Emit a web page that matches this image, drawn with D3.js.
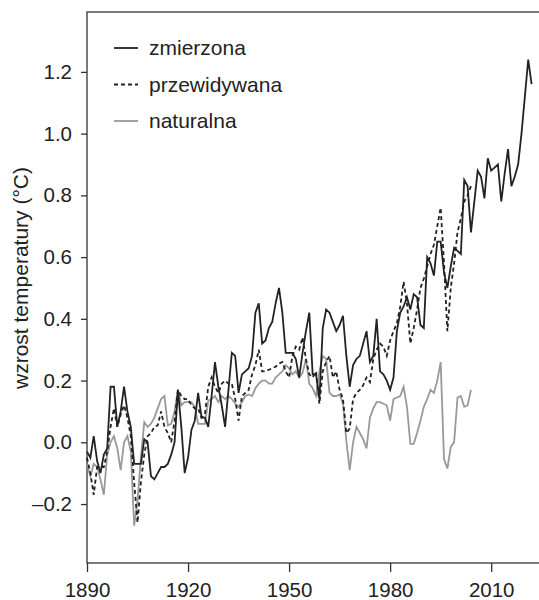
<!DOCTYPE html>
<html>
<head>
<meta charset="utf-8">
<script src="https://cdn.jsdelivr.net/npm/d3@7"></script>
<style>
  body { margin: 0; background: #fff; }
  text { font-family: "Liberation Sans", Arial, sans-serif; fill: #222; }
</style>
</head>
<body>
<script>
// measured, 1890-2022
const measuredStart = 1890;
const measured = [
  -0.03, -0.05, 0.02, -0.06, -0.10, -0.04, -0.02, 0.18, 0.18, 0.05,
  0.10, 0.18, 0.10, 0.05, -0.07, -0.07, -0.07, 0.01, 0.00, -0.11,
  -0.12, -0.10, -0.08, -0.08, -0.07, -0.04, 0.00, 0.17, 0.05, -0.10,
  -0.05, 0.04, 0.07, 0.16, 0.08, 0.08, 0.05, 0.15, 0.26, 0.18,
  0.12, 0.05, 0.17, 0.29, 0.28, 0.16, 0.22, 0.23, 0.24, 0.28,
  0.42, 0.45, 0.32, 0.33, 0.37, 0.39, 0.45, 0.50, 0.42, 0.29,
  0.29, 0.29, 0.27, 0.21, 0.29, 0.36, 0.42, 0.22, 0.22, 0.14,
  0.37, 0.43, 0.42, 0.39, 0.36, 0.38, 0.41, 0.28, 0.18, 0.25,
  0.27, 0.28, 0.32, 0.36, 0.26, 0.28, 0.40, 0.23, 0.22, 0.20,
  0.17, 0.21, 0.36, 0.42, 0.44, 0.47, 0.43, 0.48, 0.47, 0.38,
  0.37, 0.60, 0.58, 0.54, 0.65, 0.65, 0.55, 0.50, 0.57, 0.63,
  0.62, 0.61, 0.85, 0.83, 0.68, 0.78, 0.88, 0.86, 0.79, 0.92,
  0.88, 0.89, 0.90, 0.78, 0.87, 0.95, 0.83, 0.86, 0.90, 1.00,
  1.12, 1.24, 1.16
];

// predicted, 1890-2004
const predictedStart = 1890;
const predicted = [
  -0.05, -0.10, -0.17, -0.08, -0.08, -0.08, -0.03, 0.05, 0.11, 0.05,
  0.09, 0.12, 0.08, 0.02, -0.13, -0.26, -0.13, -0.04, 0.02, 0.03,
  0.05, 0.055, 0.10, 0.05, 0.03, 0.00, 0.07, 0.17, 0.15, 0.14,
  0.14, 0.12, 0.11, 0.11, 0.08, 0.09, 0.18, 0.21, 0.18, 0.16,
  0.19, 0.20, 0.19, 0.19, 0.14, 0.07, 0.15, 0.16, 0.17, 0.22,
  0.25, 0.30, 0.23, 0.23, 0.235, 0.24, 0.245, 0.255, 0.26, 0.23,
  0.21, 0.28, 0.31, 0.30, 0.34, 0.27, 0.22, 0.21, 0.23, 0.125,
  0.23, 0.26, 0.28, 0.21, 0.23, 0.17, 0.14, 0.03, 0.045, 0.14,
  0.16, 0.17, 0.185, 0.21, 0.195, 0.27, 0.30, 0.32, 0.31, 0.28,
  0.33, 0.36, 0.385, 0.44, 0.52, 0.45, 0.32, 0.37, 0.43, 0.50,
  0.53, 0.57, 0.61, 0.64, 0.70, 0.76, 0.58, 0.36, 0.50, 0.58,
  0.68, 0.725, 0.78, 0.80, 0.83
];

// natural, 1890-2004
const naturalStart = 1890;
const natural = [
  -0.07, -0.11, -0.07, -0.08, -0.12, -0.17, -0.04, 0.00, 0.02, -0.02,
  -0.09, 0.00, 0.02, -0.03, -0.27, -0.19, -0.05, 0.065, 0.05, 0.06,
  0.08, 0.11, 0.14, 0.15, 0.055, 0.06, 0.10, 0.17, 0.12, 0.13,
  0.13, 0.13, 0.115, 0.06, 0.06, 0.06, 0.135, 0.14, 0.15, 0.13,
  0.15, 0.14, 0.15, 0.14, 0.125, 0.115, 0.13, 0.15, 0.155, 0.15,
  0.175, 0.19, 0.20, 0.20, 0.19, 0.19, 0.21, 0.22, 0.23, 0.25,
  0.24, 0.22, 0.23, 0.21, 0.225, 0.27, 0.19, 0.175, 0.15, 0.23,
  0.28, 0.27, 0.16, 0.15, 0.15, 0.155, 0.125, 0.005, -0.09, 0.00,
  0.05, 0.03, 0.01, -0.02, 0.08, 0.11, 0.13, 0.13, 0.125, 0.12,
  0.07, 0.14, 0.145, 0.15, 0.18, 0.115, -0.005, -0.005, 0.03, 0.07,
  0.115, 0.14, 0.17, 0.16, 0.20, 0.26, -0.055, -0.085, -0.015, 0.00,
  0.145, 0.15, 0.115, 0.12, 0.17
];

const xTicks = [1890, 1920, 1950, 1980, 2010];
const yTicks = [-0.2, 0, 0.2, 0.4, 0.6, 0.8, 1.0, 1.2];
const seriesNames = ['zmierzona', 'przewidywana', 'naturalna'];

const [w, h] = [539, 600];
const m = { left: 87, top: 12, right: 0, bottom: 37 };

const svg = d3.select('body').append('svg')
    .attr('width', w)
    .attr('height', h);

const x = d3.scaleLinear()
    .domain([1890, 2024.2])
    .range([m.left, w - m.right]);

const y = d3.scaleLinear()
    .domain([-0.391, 1.394])
    .range([h - m.bottom, m.top]);

// frame (right side runs past the window)
svg.append('rect')
    .attr('x', m.left)
    .attr('y', m.top)
    .attr('width', w + 20 - m.left)
    .attr('height', h - m.bottom - m.top)
    .attr('fill', 'none')
    .attr('stroke', '#333')
    .attr('stroke-width', 1.3);

// axes
const xAxis = svg.append('g')
    .attr('transform', `translate(0, ${h - m.bottom})`)
    .call(d3.axisBottom(x).tickValues(xTicks).tickFormat(d3.format('d')).tickSize(9).tickPadding(10));

const yAxis = svg.append('g')
    .attr('transform', `translate(${m.left}, 0)`)
    .call(d3.axisLeft(y).tickValues(yTicks)
        .tickFormat(d => d < 0 ? '\u2013' + Math.abs(d).toFixed(1) : d.toFixed(1))
        .tickSize(6).tickPadding(9));

[xAxis, yAxis].forEach(g => {
    g.select('.domain').remove();
    g.selectAll('line').attr('stroke', '#333').attr('stroke-width', 1.3);
    g.selectAll('text')
        .attr('font-family', '"Liberation Sans", Arial, sans-serif')
        .attr('font-size', 20.5)
        .attr('fill', '#222');
});

svg.append('text')
    .attr('transform', 'translate(28, 278) rotate(-90)')
    .attr('text-anchor', 'middle')
    .attr('font-size', 21)
    .text('wzrost temperatury (°C)');

// lines
const toPoints = (vals, start) => vals.map((v, i) => [start + i, v]);
const line = d3.line().x(d => x(d[0])).y(d => y(d[1]));

svg.append('path')
    .datum(toPoints(natural, naturalStart))
    .attr('d', line)
    .attr('fill', 'none')
    .attr('stroke', '#999')
    .attr('stroke-width', 1.8);

svg.append('path')
    .datum(toPoints(predicted, predictedStart))
    .attr('d', line)
    .attr('fill', 'none')
    .attr('stroke', '#222')
    .attr('stroke-width', 1.8)
    .attr('stroke-dasharray', '4,3');

svg.append('path')
    .datum(toPoints(measured, measuredStart))
    .attr('d', line)
    .attr('fill', 'none')
    .attr('stroke', '#222')
    .attr('stroke-width', 1.8);

// legend
const legendStyles = [
    { color: '#222', dash: null },
    { color: '#222', dash: '4,3' },
    { color: '#999', dash: null }
];

const legend = svg.append('g')
    .attr('transform', 'translate(114, 48)');

seriesNames.forEach((name, i) => {
    const row = legend.append('g').attr('transform', `translate(0, ${i * 36.5})`);
    row.append('line')
        .attr('x1', 0).attr('x2', 24)
        .attr('y1', 0).attr('y2', 0)
        .attr('stroke', legendStyles[i].color)
        .attr('stroke-width', 1.8)
        .attr('stroke-dasharray', legendStyles[i].dash);
    row.append('text')
        .attr('x', 35)
        .attr('y', 7)
        .attr('font-size', 21)
        .text(name);
});
</script>
</body>
</html>
